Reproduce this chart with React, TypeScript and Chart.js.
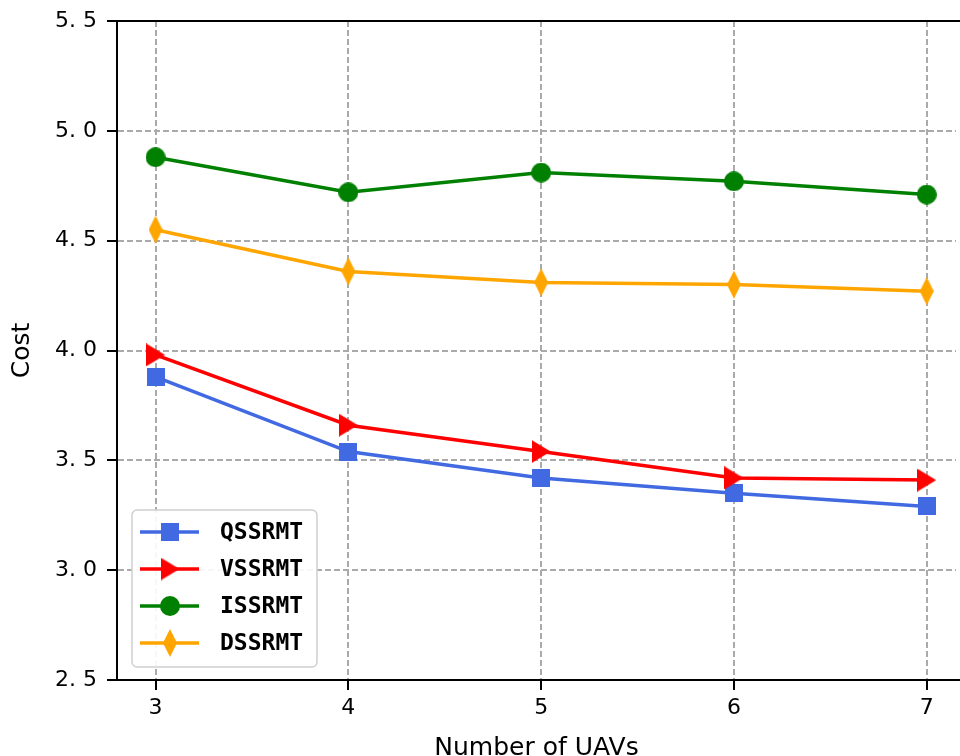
import React, { useEffect, useRef } from 'react';
import { Chart, registerables } from 'chart.js';

Chart.register(...registerables);

const uavCounts = [3, 4, 5, 6, 7];
const qssrmt = [3.88, 3.54, 3.42, 3.35, 3.29];
const vssrmt = [3.98, 3.66, 3.54, 3.42, 3.41];
const issrmt = [4.88, 4.72, 4.81, 4.77, 4.71];
const dssrmt = [4.55, 4.36, 4.31, 4.30, 4.27];
const seriesNames = ['QSSRMT', 'VSSRMT', 'ISSRMT', 'DSSRMT'];
const seriesColors = ['#4169e1', '#ff0000', '#008000', '#ffa500'];
const seriesMarkers = ['square', 'triangleRight', 'circle', 'thinDiamond'];
const yTicks = [2.5, 3.0, 3.5, 4.0, 4.5, 5.0, 5.5];

function makeMarker(kind: string, color: string): HTMLCanvasElement {
  const c = document.createElement('canvas');
  let w = 18, h = 18;
  if (kind === 'square') { w = 18; h = 18; }
  if (kind === 'triangleRight') { w = 19; h = 23; }
  if (kind === 'circle') { w = 20; h = 20; }
  if (kind === 'thinDiamond') { w = 14; h = 28; }
  c.width = w; c.height = h;
  const ctx = c.getContext('2d')!;
  ctx.fillStyle = color;
  ctx.beginPath();
  if (kind === 'square') {
    ctx.rect(0, 0, w, h);
  } else if (kind === 'triangleRight') {
    ctx.moveTo(0, 0); ctx.lineTo(w, h / 2); ctx.lineTo(0, h); ctx.closePath();
  } else if (kind === 'circle') {
    ctx.arc(w / 2, h / 2, w / 2, 0, Math.PI * 2);
  } else {
    ctx.moveTo(w / 2, 0); ctx.lineTo(w, h / 2); ctx.lineTo(w / 2, h); ctx.lineTo(0, h / 2); ctx.closePath();
  }
  ctx.fill();
  return c;
}

export default function App() {
  const ref = useRef<HTMLCanvasElement | null>(null);
  useEffect(() => {
    if (!ref.current) return;
    const allValues = [qssrmt, vssrmt, issrmt, dssrmt];
    const markers = seriesMarkers.map((m, i) => makeMarker(m, seriesColors[i]));
    const datasets = allValues.map((vals, i) => ({
      label: seriesNames[i],
      data: uavCounts.map((x, j) => ({ x, y: vals[j] })),
      borderColor: seriesColors[i],
      backgroundColor: seriesColors[i],
      borderWidth: 3.5,
      pointStyle: markers[i] as any,
      pointRadius: 1,
      pointBorderWidth: 0,
      showLine: true,
      clip: false as any,
      tension: 0,
      order: 4 - i,
    }));

    const overlay = {
      id: 'overlay',
      afterDraw(chart: any) {
        const { ctx, chartArea } = chart;
        const { left, top, bottom } = chartArea;
        ctx.save();
        ctx.strokeStyle = '#000';
        ctx.lineWidth = 2;
        ctx.beginPath();
        ctx.moveTo(left - 1, top);
        ctx.lineTo(chart.width, top);
        ctx.moveTo(left - 1, bottom);
        ctx.lineTo(chart.width, bottom);
        ctx.stroke();

        // legend
        const bx = left + 15, bw = 185, bh = 157;
        const by = bottom - 13 - bh;
        ctx.beginPath();
        (ctx as any).roundRect(bx, by, bw, bh, 5);
        ctx.fillStyle = 'rgba(255,255,255,0.9)';
        ctx.fill();
        ctx.strokeStyle = '#d0d0d0';
        ctx.lineWidth = 1.5;
        ctx.stroke();
        ctx.font = 'bold 23px "DejaVu Sans Mono"';
        ctx.textBaseline = 'middle';
        ctx.textAlign = 'left';
        seriesNames.forEach((name, i) => {
          const y = by + 22 + i * 37;
          ctx.strokeStyle = seriesColors[i];
          ctx.lineWidth = 3.5;
          ctx.beginPath();
          ctx.moveTo(bx + 8, y);
          ctx.lineTo(bx + 67, y);
          ctx.stroke();
          const m = markers[i];
          ctx.drawImage(m, bx + 38 - m.width / 2, y - m.height / 2);
          ctx.fillStyle = '#000';
          ctx.fillText(name, bx + 88, y + 1);
        });
        ctx.restore();
      },
    };

    const tickFont = { family: '"DejaVu Sans"', size: 22 };
    const titleFont = { family: '"DejaVu Sans"', size: 25 };

    const chart = new Chart(ref.current, {
      type: 'line',
      data: { datasets: datasets as any },
      options: {
        animation: false,
        responsive: false,
        devicePixelRatio: 1,
        layout: { padding: { top: 21, left: 0, right: 0, bottom: 0 } },
        plugins: { legend: { display: false }, tooltip: { enabled: false } },
        scales: {
          x: {
            type: 'linear',
            min: 2.8,
            max: 7.152,
            afterBuildTicks: (s: any) => { s.ticks = uavCounts.map((v) => ({ value: v })); },
            afterFit: (s: any) => { s.height = 76; s.paddingLeft = 0; s.paddingRight = 0; },
            ticks: { font: tickFont, color: '#000', padding: 5, callback: (v: any) => String(v) },
            grid: { color: '#aaaaaa', lineWidth: 2, tickLength: 10, tickColor: '#000', tickWidth: 2 },
            border: { display: true, color: '#000', width: 2, dash: [6, 3] },
            title: { display: true, text: 'Number of UAVs', font: titleFont, color: '#000', padding: { top: 0, bottom: -7 } },
          },
          y: {
            type: 'linear',
            min: 2.5,
            max: 5.5,
            afterBuildTicks: (s: any) => { s.ticks = yTicks.map((v) => ({ value: v })); },
            afterFit: (s: any) => { s.width = 117; s.paddingTop = 0; s.paddingBottom = 0; },
            ticks: { font: tickFont, color: '#000', padding: 10, callback: (v: any) => Number(v).toFixed(1).replace('.', '. ') },
            grid: { color: '#aaaaaa', lineWidth: 2, tickLength: 10, tickColor: '#000', tickWidth: 2 },
            border: { display: true, color: '#000', width: 2, dash: [6, 3] },
            title: { display: true, text: 'Cost', font: titleFont, color: '#000', padding: { top: 7, bottom: 0 } },
          },
        },
      },
      plugins: [overlay],
    });
    return () => chart.destroy();
  }, []);

  return (
    <div style={{ position: 'absolute', left: 0, top: 0, width: 960, height: 756, overflow: 'hidden', background: '#fff' }}>
      <canvas ref={ref} width={960} height={756} style={{ display: 'block', width: 960, height: 756 }} />
    </div>
  );
}
